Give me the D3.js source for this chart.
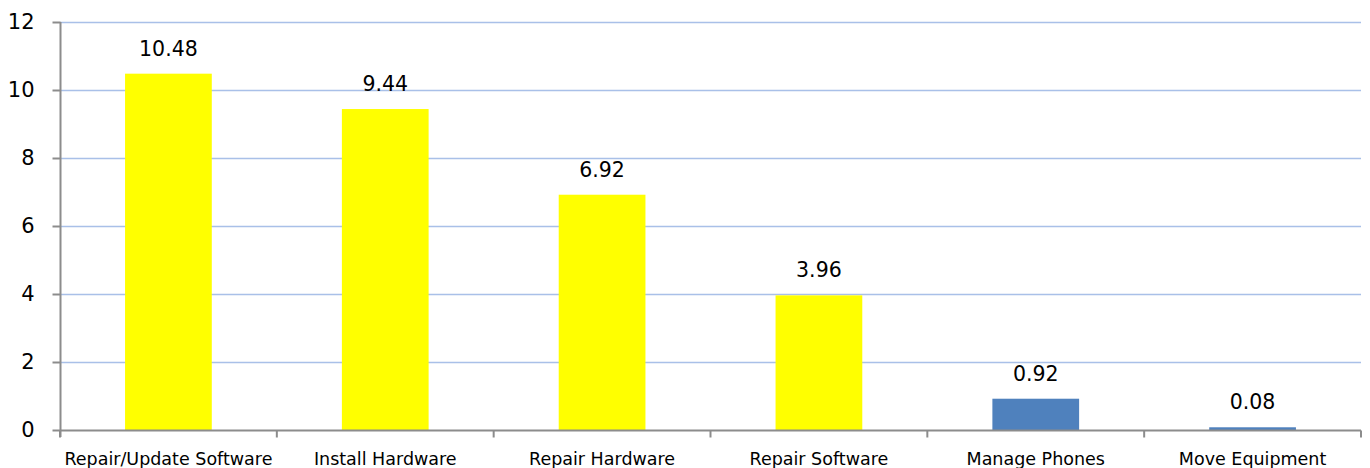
<!DOCTYPE html>
<html>
<head>
<meta charset="utf-8">
<script src="https://cdn.jsdelivr.net/npm/d3@7"></script>
<style>
  html, body { margin: 0; padding: 0; background: #fff; }
  svg { display: block; }
  text { font-family: "DejaVu Sans", sans-serif; fill: #000; }
</style>
</head>
<body>
<svg id="chart" width="1370" height="468"></svg>
<script>
const categories = ["Repair/Update Software", "Install Hardware", "Repair Hardware", "Repair Software", "Manage Phones", "Move Equipment"];
const values = [10.48, 9.44, 6.92, 3.96, 0.92, 0.08];
const barColors = ["#ffff00", "#ffff00", "#ffff00", "#ffff00", "#4f81bd", "#4f81bd"];
const yTicks = [0, 2, 4, 6, 8, 10, 12];

(function () {
const svg = d3.select("#chart");
const pLeft = 60, pRight = 1361, pTop = 22, pBottom = 430;

const x = d3.scaleBand().domain(categories).range([pLeft, pRight]).paddingInner(0.6).paddingOuter(0.3);
const xOuter = d3.scaleBand().domain(categories).range([pLeft, pRight]);
const y = d3.scaleLinear().domain([0, 12]).range([pBottom, pTop]);

// gridlines
svg.append("g").selectAll("line").data(yTicks.filter(d => d > 0)).join("line")
  .attr("x1", pLeft).attr("x2", pRight)
  .attr("y1", d => Math.round(y(d)) + 0.5).attr("y2", d => Math.round(y(d)) + 0.5)
  .attr("stroke", "#a9c0e8").attr("stroke-width", 1.3);

// bars
svg.append("g").selectAll("rect").data(values).join("rect")
  .attr("x", (d, i) => x(categories[i]))
  .attr("width", x.bandwidth())
  .attr("y", d => y(d))
  .attr("height", d => y(0) - y(d))
  .attr("fill", (d, i) => barColors[i]);

// value labels
svg.append("g").selectAll("text").data(values).join("text")
  .attr("x", (d, i) => x(categories[i]) + x.bandwidth() / 2)
  .attr("y", d => y(d) - 18)
  .attr("text-anchor", "middle")
  .style("font-size", "20.5px")
  .text(d => d.toFixed(2));

// y axis
const yAxis = d3.axisLeft(y).tickValues(yTicks).tickSize(8).tickPadding(18).tickFormat(d3.format("d"));
const gy = svg.append("g").attr("transform", `translate(${pLeft + 0.5},0)`).call(yAxis);
gy.select(".domain").attr("d", `M0,${pTop}V${pBottom + 7}`).attr("stroke", "#8c8c8c").attr("stroke-width", 2);
gy.selectAll(".tick line").attr("stroke", "#8c8c8c").attr("stroke-width", 2);
gy.selectAll(".tick text").style("font-size", "21px").style("font-family", "DejaVu Sans, sans-serif").attr("fill", "#000");

// x axis
const gx = svg.append("g").attr("transform", `translate(0,${pBottom + 0.5})`);
gx.append("line").attr("x1", pLeft).attr("x2", pRight).attr("stroke", "#8c8c8c").attr("stroke-width", 2);
const boundaries = categories.map(c => xOuter(c)).concat([pRight]);
gx.selectAll("line.tk").data(boundaries).join("line").attr("class", "tk")
  .attr("x1", d => d).attr("x2", d => d).attr("y1", 0).attr("y2", 7)
  .attr("stroke", "#8c8c8c").attr("stroke-width", 2);
gx.selectAll("text").data(categories).join("text")
  .attr("x", d => xOuter(d) + xOuter.bandwidth() / 2)
  .attr("y", 34.5)
  .attr("text-anchor", "middle")
  .style("font-size", "17.5px")
  .text(d => d);
})();
</script>
</body>
</html>
